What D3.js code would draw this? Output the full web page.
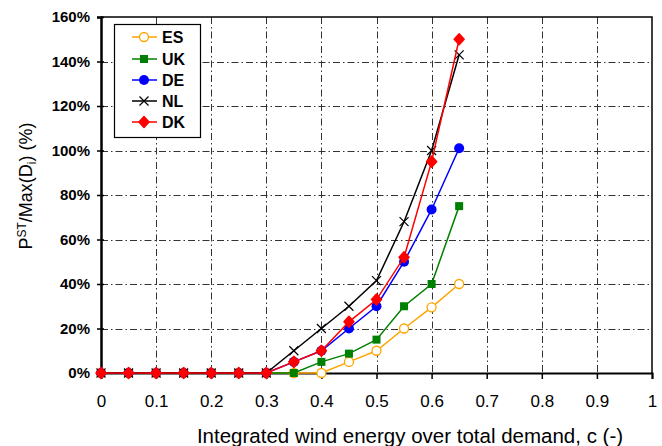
<!DOCTYPE html>
<html>
<head>
<meta charset="utf-8">
<script src="https://cdn.jsdelivr.net/npm/d3@7"></script>
<style>
  html, body { margin: 0; padding: 0; background: #fff; }
  svg { display: block; font-family: "Liberation Sans", Arial, sans-serif; }
</style>
</head>
<body>
<svg id="chart" width="662" height="446"></svg>
<script>
// Share of wind energy in total demand (c)
const cValues = [0, 0.05, 0.1, 0.15, 0.2, 0.25, 0.3, 0.35, 0.4, 0.45, 0.5, 0.55, 0.6, 0.65];

// P^ST / Max(D_i) in percent, per country
const esValues = [0, 0, 0, 0, 0, 0, 0, 0, 0, 5, 10, 20, 29.5, 40];
const ukValues = [0, 0, 0, 0, 0, 0, 0, 0, 5, 8.7, 15, 30, 40, 75];
const deValues = [0, 0, 0, 0, 0, 0, 0, 5, 10, 20, 30, 50, 73.5, 101];
const nlValues = [0, 0, 0, 0, 0, 0, 0, 10, 20, 30, 41.5, 68, 100, 143];
const dkValues = [0, 0, 0, 0, 0, 0, 0, 5, 10, 23, 33, 52, 95, 150];

const seriesNames = ["ES", "UK", "DE", "NL", "DK"];
const seriesColors = ["#FFA500", "#008000", "#0000FF", "#000000", "#FF0000"];
const seriesMarkers = ["openCircle", "square", "circle", "cross", "diamond"];

const xTicks = [0, 0.1, 0.2, 0.3, 0.4, 0.5, 0.6, 0.7, 0.8, 0.9, 1];
const xTickLabels = ["0", "0.1", "0.2", "0.3", "0.4", "0.5", "0.6", "0.7", "0.8", "0.9", "1"];
const yTicks = [0, 20, 40, 60, 80, 100, 120, 140, 160];
const yTickLabels = ["0%", "20%", "40%", "60%", "80%", "100%", "120%", "140%", "160%"];

const seriesValues = [esValues, ukValues, deValues, nlValues, dkValues];
const series = seriesNames.map((name, i) => ({
  name, color: seriesColors[i], marker: seriesMarkers[i],
  points: cValues.map((c, j) => ({ c, v: seriesValues[i][j] }))
}));

const svg = d3.select("#chart");
const plot = { left: 101, right: 652, top: 17, bottom: 373 };

const x = d3.scaleLinear().domain([0, 1]).range([plot.left, plot.right]);
const y = d3.scaleLinear().domain([0, 160]).range([plot.bottom, plot.top]);

// Dash-dot grid
const grid = svg.append("g").attr("stroke", "#333").attr("stroke-width", 1)
  .attr("stroke-dasharray", "7,3,1.5,3").attr("fill", "none");
grid.selectAll("line.h").data(yTicks.filter(t => t > 0 && t < 160)).join("line")
  .attr("class", "h")
  .attr("x1", plot.left).attr("x2", plot.right)
  .attr("y1", d => Math.round(y(d)) + 0.5).attr("y2", d => Math.round(y(d)) + 0.5);
grid.selectAll("line.v").data(xTicks.filter(t => t > 0 && t < 1)).join("line")
  .attr("class", "v")
  .attr("y1", plot.top).attr("y2", plot.bottom)
  .attr("x1", d => Math.round(x(d)) + 0.5).attr("x2", d => Math.round(x(d)) + 0.5);

// Frame (top and right)
svg.append("path")
  .attr("d", `M${plot.left},${plot.top}H${plot.right}V${plot.bottom}`)
  .attr("fill", "none").attr("stroke", "#000").attr("stroke-width", 1.5);

// X axis
const xAxis = d3.axisBottom(x).tickValues(xTicks)
  .tickFormat((d, i) => xTickLabels[i]).tickSizeOuter(0).tickSize(6).tickPadding(16);
const gx = svg.append("g").attr("transform", `translate(0,${plot.bottom})`).call(xAxis);
gx.select(".domain").attr("stroke", "#000").attr("stroke-width", 2);
gx.selectAll(".tick line").attr("stroke", "#000").attr("stroke-width", 1.5);
gx.selectAll(".tick text").attr("font-size", 17).attr("fill", "#000")
  .attr("font-family", "Liberation Sans, Arial, sans-serif");

// Y axis
const yAxis = d3.axisLeft(y).tickValues(yTicks)
  .tickFormat((d, i) => yTickLabels[i]).tickSizeOuter(0).tickSize(4).tickPadding(7);
const gy = svg.append("g").attr("transform", `translate(${plot.left},0)`).call(yAxis);
gy.select(".domain").attr("stroke", "#000").attr("stroke-width", 2.5);
gy.selectAll(".tick line").attr("stroke", "#000").attr("stroke-width", 1.5).attr("x2", 3).attr("x1", -4);
gy.selectAll(".tick text").attr("font-size", 15).attr("font-weight", "bold").attr("fill", "#000")
  .attr("font-family", "Liberation Sans, Arial, sans-serif");

// Axis titles
svg.append("text")
  .attr("x", 410).attr("y", 443)
  .attr("text-anchor", "middle").attr("font-size", 20.5).attr("fill", "#000")
  .text("Integrated wind energy over total demand, c (-)");

const yTitle = svg.append("text")
  .attr("transform", "translate(32,186) rotate(-90)")
  .attr("text-anchor", "middle").attr("font-size", 18).attr("fill", "#000");
yTitle.append("tspan").text("P");
yTitle.append("tspan").attr("font-size", 12).attr("dy", -6).text("ST");
yTitle.append("tspan").attr("dy", 6).text("/Max(D");
yTitle.append("tspan").attr("font-size", 12).attr("dy", 4).text("i");
yTitle.append("tspan").attr("dy", -4).text(") (%)");

// Marker drawing
function drawMarker(g, type, color) {
  switch (type) {
    case "openCircle":
      g.append("circle").attr("r", 4.5).attr("fill", "#fff").attr("stroke", color).attr("stroke-width", 1.3);
      break;
    case "square":
      g.append("rect").attr("x", -4).attr("y", -4).attr("width", 8).attr("height", 8).attr("fill", color);
      break;
    case "circle":
      g.append("circle").attr("r", 5).attr("fill", color);
      break;
    case "cross":
      g.append("path").attr("d", "M-4.5,-4.5L4.5,4.5M-4.5,4.5L4.5,-4.5")
        .attr("stroke", color).attr("stroke-width", 1.2).attr("fill", "none");
      break;
    case "diamond":
      g.append("path").attr("d", "M0,-5.5L5,0L0,5.5L-5,0Z")
        .attr("fill", color).attr("stroke", color).attr("stroke-width", 1.5).attr("stroke-linejoin", "round");
      break;
  }
}

const line = d3.line().x(d => x(d.c)).y(d => y(d.v));

series.forEach(s => {
  const g = svg.append("g");
  g.append("path").datum(s.points).attr("d", line)
    .attr("fill", "none").attr("stroke", s.color).attr("stroke-width", 1.5);
  s.points.forEach(p => {
    const m = g.append("g").attr("transform", `translate(${x(p.c)},${y(p.v)})`);
    drawMarker(m, s.marker, s.color);
  });
});

// Legend
const legend = svg.append("g");
legend.append("rect").attr("x", 114.5).attr("y", 24.5).attr("width", 86).attr("height", 113)
  .attr("fill", "#fff").attr("stroke", "#000").attr("stroke-width", 1.2);
const legendY = [37, 59, 80, 101, 122];
series.forEach((s, i) => {
  const row = legend.append("g").attr("transform", `translate(0,${legendY[i]})`);
  row.append("line").attr("x1", 132).attr("x2", 157).attr("y1", 0).attr("y2", 0)
    .attr("stroke", s.color).attr("stroke-width", 1.5);
  const m = row.append("g").attr("transform", "translate(144,0)");
  drawMarker(m, s.marker, s.color);
  row.append("text").attr("x", 162).attr("y", 6).attr("font-size", 16).attr("font-weight", "bold")
    .attr("fill", "#000").text(s.name);
});
</script>
</body>
</html>
